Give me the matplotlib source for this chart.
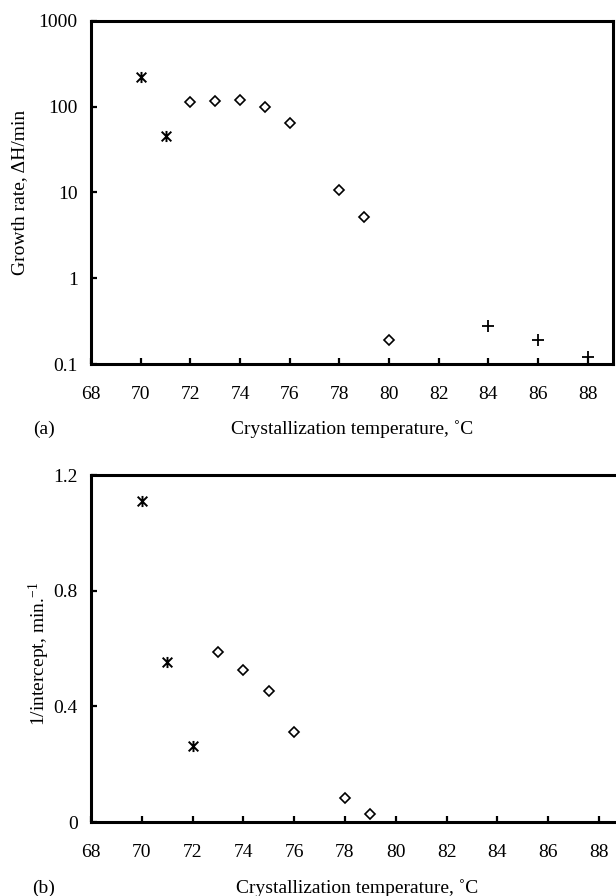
import matplotlib
matplotlib.use("Agg")
import matplotlib.pyplot as plt
from matplotlib.path import Path

plt.rcParams['font.family'] = ['Liberation Serif', 'DejaVu Serif']
plt.rcParams['mathtext.fontset'] = 'custom'
plt.rcParams['mathtext.rm'] = 'Liberation Serif'
plt.rcParams['mathtext.it'] = 'Liberation Serif:italic'

# ---- data: panel (a) growth rate ----
a_star_T = [70, 71]
a_star_v = [220, 45]
a_diam_T = [72, 73, 74, 75, 76, 78, 79, 80]
a_diam_v = [113, 116, 120, 99, 64, 10.7, 5.1, 0.19]
a_plus_T = [84, 86, 88]
a_plus_v = [0.28, 0.19, 0.122]

# ---- data: panel (b) 1/intercept ----
b_star_T = [70, 71, 72]
b_star_v = [1.11, 0.554, 0.264]
b_diam_T = [73, 74, 75, 76, 78, 79]
b_diam_v = [0.588, 0.526, 0.454, 0.312, 0.084, 0.029]

x_ticks = [68, 70, 72, 74, 76, 78, 80, 82, 84, 86, 88]
a_yticks = [0.1, 1, 10, 100, 1000]
a_ylabels = ['0.1', '1', '10', '100', '1000']
b_yticks = [0, 0.4, 0.8, 1.2]
b_ylabels = ['0', '0.4', '0.8', '1.2']

xlabel = 'Crystallization temperature, \u02daC'

asterisk = Path([(-1, -1), (1, 1), (-1, 1), (1, -1), (0, -1.15), (0, 1.15)],
                [Path.MOVETO, Path.LINETO, Path.MOVETO, Path.LINETO, Path.MOVETO, Path.LINETO])

FS = 14
fig = plt.figure(figsize=(6.16, 8.96), dpi=100)
W, H = 616.0, 896.0
ax1 = fig.add_axes([91 / W, 1 - 364 / H, 521.7 / W, 343.3 / H])
ax2 = fig.add_axes([91 / W, 1 - 822 / H, 533.4 / W, 347 / H])

def style(ax):
    for s in ax.spines.values():
        s.set_linewidth(2.2)
    ax.tick_params(axis='both', direction='in', length=4.5, width=1.6,
                   labelsize=FS, colors='black')
    ax.tick_params(axis='x', pad=16)
    ax.tick_params(axis='y', pad=9.5)
    ax.set_xlim(68, 89)
    ax.set_xticks(x_ticks)
    ax.set_xticklabels([str(t) for t in x_ticks])

mk = dict(linestyle='none', color='black', clip_on=False)

# panel (a)
ax1.plot(a_star_T, a_star_v, marker=asterisk, markersize=8, markeredgewidth=1.4, **mk)
ax1.plot(a_diam_T, a_diam_v, marker='D', markersize=5.2, markerfacecolor='white',
         markeredgecolor='black', markeredgewidth=1.2, **mk)
ax1.plot(a_plus_T, a_plus_v, marker='+', markersize=8.5, markeredgewidth=1.3, **mk)
ax1.set_yscale('log')
ax1.set_ylim(0.1, 1000)
ax1.set_yticks(a_yticks)
ax1.set_yticklabels(a_ylabels)
ax1.minorticks_off()
style(ax1)

# panel (b)
ax2.plot(b_star_T, b_star_v, marker=asterisk, markersize=8, markeredgewidth=1.4, **mk)
ax2.plot(b_diam_T, b_diam_v, marker='D', markersize=5.2, markerfacecolor='white',
         markeredgecolor='black', markeredgewidth=1.2, **mk)
ax2.set_ylim(0, 1.2)
ax2.set_yticks(b_yticks)
ax2.set_yticklabels(b_ylabels)
style(ax2)

# labels
fig.text(20 / W, 1 - 192 / H, 'Growth rate, \u0394H/min', rotation=90,
         ha='center', va='center', fontsize=FS)
fig.text(39 / W, 1 - 654 / H, r'1/intercept, min.$^{\mathregular{-1}}$', rotation=90,
         ha='center', va='center', fontsize=FS)
fig.text(352 / W, 1 - 433.5 / H, xlabel, ha='center', va='baseline', fontsize=FS)
fig.text(44 / W, 1 - 433.5 / H, '(a)', ha='center', va='baseline', fontsize=FS)
fig.text(357.5 / W, 1 - 893 / H, xlabel, ha='center', va='baseline', fontsize=FS)
fig.text(44 / W, 1 - 893 / H, '(b)', ha='center', va='baseline', fontsize=FS)

fig.savefig('out.png', dpi=100)
